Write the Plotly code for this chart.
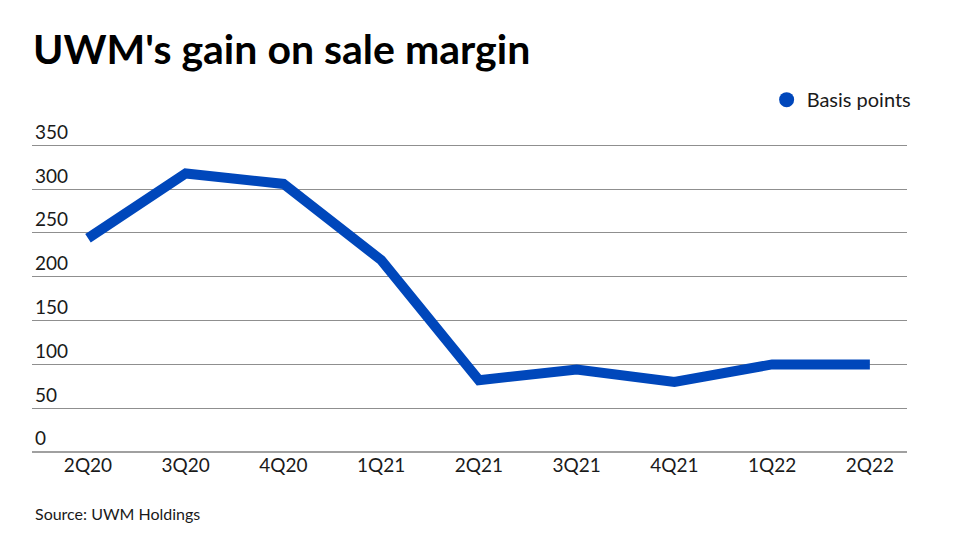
import plotly.graph_objects as go

quarters = ["2Q20", "3Q20", "4Q20", "1Q21", "2Q21", "3Q21", "4Q21", "1Q22", "2Q22"]
basis_points = [244, 318, 306, 219, 82, 94, 80, 100, 100]
y_ticks = [0, 50, 100, 150, 200, 250, 300, 350]

BLUE = "#0047bb"
TEXT = "#1a1a1a"

fig = go.Figure()
fig.add_trace(go.Scatter(
    x=quarters, y=basis_points, mode="lines",
    line=dict(color=BLUE, width=10),
    showlegend=False, hoverinfo="x+y",
))
fig.add_trace(go.Scatter(
    x=[None], y=[None], mode="markers", name="Basis points",
    marker=dict(color=BLUE, size=15),
))

fig.update_layout(
    width=978, height=550,
    margin=dict(l=32, r=71, t=141, b=98),
    paper_bgcolor="white", plot_bgcolor="white",
    font=dict(family="Lato", size=19, color=TEXT),
    title=dict(
        text="UWM's gain on sale margin",
        x=33 / 978, xanchor="left", xref="container",
        y=1 - 50 / 550, yanchor="middle", yref="container",
        font=dict(family="Lato", size=41, color="#000000", weight=700),
    ),
    legend=dict(
        orientation="h", x=1.011, xanchor="right", y=1.133, yanchor="middle",
        font=dict(size=20, color=TEXT), bgcolor="rgba(0,0,0,0)",
        itemwidth=30,
    ),
    xaxis=dict(
        type="category", range=[-0.573, 8.38],
        showgrid=False, showline=False, zeroline=False,
        ticks="", tickfont=dict(size=19, color=TEXT),
    ),
    yaxis=dict(
        range=[0, 355], tickvals=y_ticks,
        showgrid=True, gridcolor="#8f8f8f", gridwidth=1,
        zeroline=True, zerolinecolor="#a0a0a0", zerolinewidth=2,
        showline=False, ticks="",
        ticklabelposition="inside top", ticklabeloverflow="allow",
        tickfont=dict(size=19, color=TEXT),
    ),
    annotations=[dict(
        text="Source: UWM Holdings", xref="paper", yref="paper",
        x=0.001, y=-0.199, xanchor="left", yanchor="middle",
        showarrow=False, font=dict(size=16, color=TEXT),
    )],
)

fig.write_html(
    "out.html",
    config={"displayModeBar": False},
    post_script="document.body.style.margin='0';document.body.style.overflow='hidden';",
)
